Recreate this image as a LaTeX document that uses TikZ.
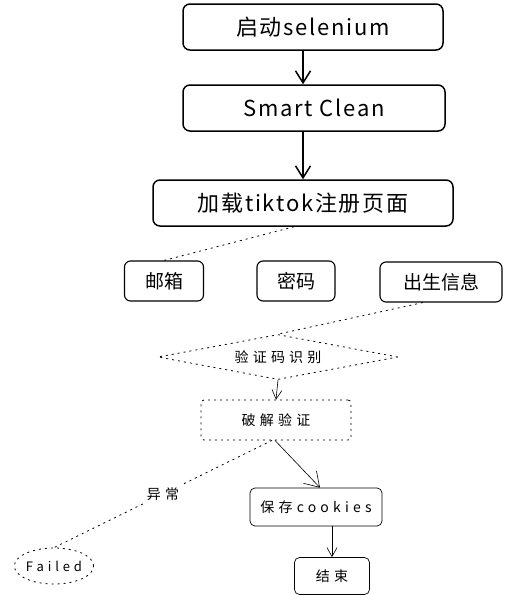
\documentclass[tikz,border=0pt]{standalone}
\usepackage{fontspec}
\setmainfont{Noto Sans CJK SC}
\newfontfamily\widefont[LetterSpace=8]{Noto Sans CJK SC}
\newfontfamily\loosefont[LetterSpace=30]{Noto Sans CJK SC}
\usetikzlibrary{shapes.geometric,arrows.meta}

\begin{document}
\begin{tikzpicture}[x=1pt,y=-1pt,
    bigbox/.style={draw,line width=1.5pt,rounded corners=7pt,inner sep=0pt,minimum height=46pt,font=\widefont\fontsize{22}{26}\selectfont},
    midbox/.style={draw,line width=1.1pt,rounded corners=6pt,inner sep=0pt,minimum height=40pt,font=\fontsize{19}{22}\selectfont},
    smallbox/.style={draw,line width=0.7pt,rounded corners=5pt,inner sep=0pt,font=\loosefont\fontsize{14}{17}\selectfont},
    dots/.style={line width=0.8pt,dash pattern=on 2pt off 4pt},
    bigarrow/.style={line width=1.5pt,-{Straight Barb[length=12pt,width=15pt]}},
    thinarrow/.style={line width=0.6pt,-{Straight Barb[length=9pt,width=10pt]}}]
        \useasboundingbox (0,0) rectangle (511,595);

        %main chain
        \node[bigbox,minimum width=260pt] (start) at (313,27) {启动selenium};
        \node[bigbox,minimum width=262pt] (clean) at (314,108) {Smart Clean};
        \node[bigbox,minimum width=300pt] (load) at (303,203) {加载tiktok注册页面};
        \draw[bigarrow] (start.south -| 303,0) -- (clean.north -| 303,0);
        \draw[bigarrow] (clean.south -| 303,0) -- (load.north -| 303,0);

        %form fields
        \node[midbox,minimum width=79pt] (mail) at (164,281) {邮箱};
        \node[midbox,minimum width=78pt] (pwd) at (296,281) {密码};
        \node[midbox,minimum width=122pt] (birth) at (441,282) {出生信息};
        \draw[dots] (load.south -| 294,0) -- (mail.north);

        %captcha
        \node[draw,dots,diamond,aspect=5.3,inner sep=0pt,minimum width=240pt,minimum height=45pt,font=\loosefont\fontsize{14}{17}\selectfont] (captcha) at (278,357) {验证码识别};
        \draw[dots] (birth.south -| 423,0) -- (captcha.north);
        \node[smallbox,dots,rounded corners=3pt,minimum width=150pt,minimum height=40pt] (crack) at (276,420) {破解验证};
        \draw[thinarrow] (captcha.south) -- (crack.north);

        %result
        \node[smallbox,minimum width=132pt,minimum height=38pt] (save) at (316,507) {保存cookies};
        \node[smallbox,minimum width=75pt,minimum height=37pt] (finish) at (332,576) {结束};
        \node[draw,dots,ellipse,inner sep=0pt,minimum width=78pt,minimum height=36pt,font=\loosefont\fontsize{13}{15}\selectfont] (failed) at (54,566) {Failed};
        \draw[line width=0.6pt,-{Straight Barb[length=14pt,width=18pt]}] (crack.south -| 275,0) -- (save.north -| 320,0);
        \draw[thinarrow] (save.south -| 332,0) -- (finish.north -| 332,0);
        \draw[dots] (crack.south -| 272,0) -- node[pos=0.5,fill=white,inner sep=3pt,font=\loosefont\fontsize{14}{17}\selectfont] {异常} (failed.north);
\end{tikzpicture}
\end{document}
